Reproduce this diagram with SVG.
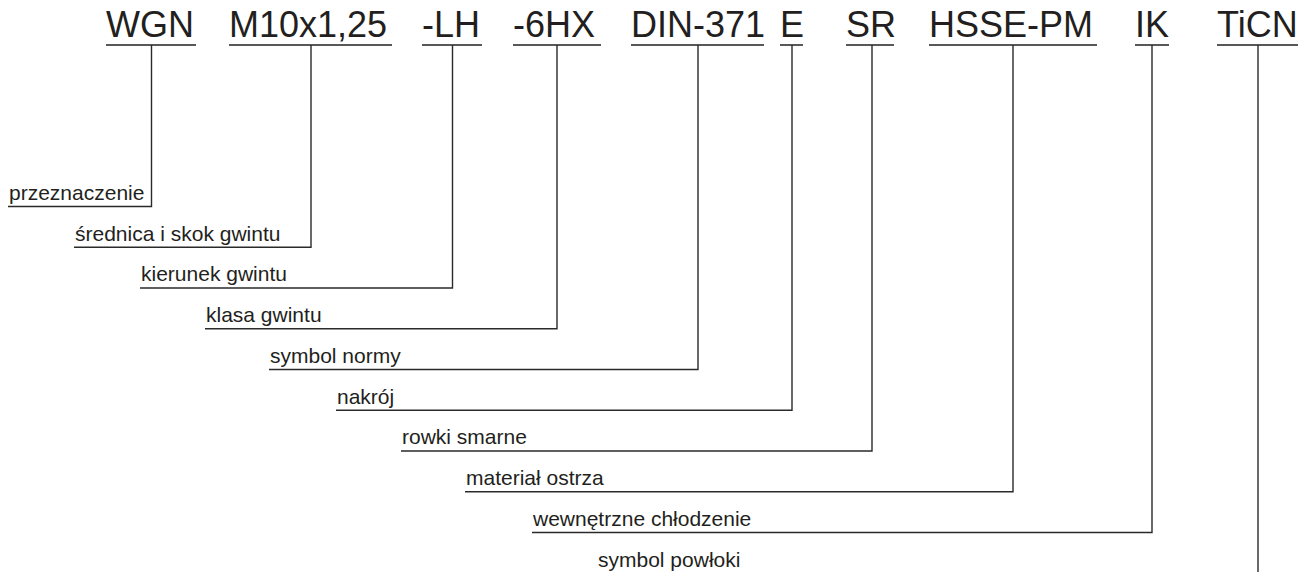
<svg xmlns="http://www.w3.org/2000/svg" width="1312" height="572" viewBox="0 0 1312 572">
<style>
.code{font-family:"Liberation Sans",Arial,sans-serif;font-size:36px;fill:#231f20}
.lbl{font-family:"Liberation Sans",Arial,sans-serif;font-size:21px;fill:#231f20}
.ul{stroke:#231f20;stroke-width:1.5;fill:none}
.conn{stroke:#2a2a2a;stroke-width:1.4;fill:none}
</style>
<rect width="1312" height="572" fill="#fff"/>
<g id="codes">
<g id="c-wgn"><text class="code" x="106" y="37">WGN</text><line class="ul" x1="106" y1="45" x2="196" y2="45"/></g>
<g id="c-m10"><text class="code" x="229" y="37">M10x1,25</text><line class="ul" x1="229" y1="45" x2="392" y2="45"/></g>
<g id="c-lh"><text class="code" x="422" y="37">-LH</text><line class="ul" x1="422" y1="45" x2="482" y2="45"/></g>
<g id="c-6hx"><text class="code" x="513" y="37">-6HX</text><line class="ul" x1="513" y1="45" x2="601" y2="45"/></g>
<g id="c-din"><text class="code" x="631" y="37">DIN-371</text><line class="ul" x1="631" y1="45" x2="764" y2="45"/></g>
<g id="c-e"><text class="code" x="780" y="37">E</text><line class="ul" x1="780" y1="45" x2="803" y2="45"/></g>
<g id="c-sr"><text class="code" x="846" y="37">SR</text><line class="ul" x1="846" y1="45" x2="894" y2="45"/></g>
<g id="c-hsse"><text class="code" x="929" y="37">HSSE-PM</text><line class="ul" x1="929" y1="45" x2="1097" y2="45"/></g>
<g id="c-ik"><text class="code" x="1135" y="37">IK</text><line class="ul" x1="1135" y1="45" x2="1169" y2="45"/></g>
<g id="c-ticn"><text class="code" x="1217" y="37">TiCN</text><line class="ul" x1="1217" y1="45" x2="1298" y2="45"/></g>
</g>
<g id="connectors">
<polyline class="conn" points="151.5,45 151.5,206.5 8,206.5"/>
<polyline class="conn" points="311,45 311,247.3 74,247.3"/>
<polyline class="conn" points="452.5,45 452.5,288 140,288"/>
<polyline class="conn" points="557,45 557,328.8 205,328.8"/>
<polyline class="conn" points="698,45 698,369.5 269,369.5"/>
<polyline class="conn" points="792,45 792,410.3 336,410.3"/>
<polyline class="conn" points="872,45 872,451 401,451"/>
<polyline class="conn" points="1013,45 1013,491.8 465,491.8"/>
<polyline class="conn" points="1152,45 1152,532.5 532,532.5"/>
<polyline class="conn" points="1258,45 1258,572"/>
</g>
<g id="labels">
<g id="l1"><text class="lbl" x="9" y="200">przeznaczenie</text></g>
<g id="l2"><text class="lbl" x="75" y="240.5">średnica i skok gwintu</text></g>
<g id="l3"><text class="lbl" x="141" y="281.3">kierunek gwintu</text></g>
<g id="l4"><text class="lbl" x="206" y="322">klasa gwintu</text></g>
<g id="l5"><text class="lbl" x="270" y="362.8">symbol normy</text></g>
<g id="l6"><text class="lbl" x="337" y="403.5">nakrój</text></g>
<g id="l7"><text class="lbl" x="402" y="444.3">rowki smarne</text></g>
<g id="l8"><text class="lbl" x="466" y="485">materiał ostrza</text></g>
<g id="l9"><text class="lbl" x="533" y="525.8">wewnętrzne chłodzenie</text></g>
<g id="l10"><text class="lbl" x="598" y="566.5">symbol powłoki</text></g>
</g>
</svg>
